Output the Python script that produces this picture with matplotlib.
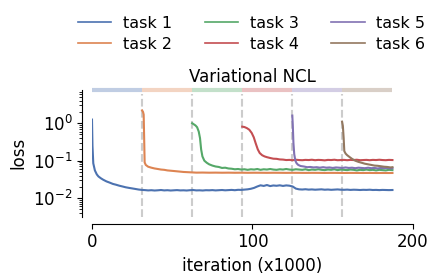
import matplotlib
matplotlib.use("Agg")
import matplotlib.pyplot as plt

# granice zadan (x1000 iteracji)
granice = [0, 31.2, 62.4, 93.6, 124.8, 156.0, 187.2]
etykiety = ["task 1", "task 2", "task 3", "task 4", "task 5", "task 6"]
kolory = ["#4C72B0", "#DD8452", "#55A868", "#C44E52", "#8172B3", "#937860"]

task1 = [(0, 1.25), (0.3, 0.25), (0.8, 0.085), (1.8, 0.055), (3, 0.043), (4, 0.038),
         (5.5, 0.034), (7, 0.031), (9, 0.028), (11, 0.026), (13, 0.024), (15, 0.0228),
         (17, 0.0215), (19, 0.0205), (21, 0.0195), (23, 0.0188), (25, 0.0182), (27, 0.0176),
         (29, 0.0170), (31, 0.0166), (33, 0.0164), (35, 0.0161), (37, 0.0163), (39, 0.0160),
         (41, 0.0162), (43, 0.0165), (45, 0.0161), (47, 0.0163), (49, 0.0160), (51, 0.0162),
         (53, 0.0164), (55, 0.0161), (57, 0.0162), (59, 0.0160), (61, 0.0163), (63, 0.0165),
         (65, 0.0161), (67, 0.0162), (69, 0.0160), (71, 0.0163), (73, 0.0162), (75, 0.0164),
         (77, 0.0161), (79, 0.0163), (81, 0.0165), (83, 0.0162), (85, 0.0164), (87, 0.0166),
         (89, 0.0163), (91, 0.0167), (93, 0.0166), (95, 0.0169), (97, 0.0172), (99, 0.0178),
         (101, 0.0188), (103, 0.0205), (105, 0.0220), (107, 0.0212), (109, 0.0224),
         (111, 0.0210), (113, 0.0218), (115, 0.0214), (117, 0.0220), (119, 0.0212),
         (121, 0.0219), (123, 0.0215), (125, 0.0205), (127, 0.0180), (129, 0.0172),
         (131, 0.0170), (133, 0.0173), (135, 0.0169), (137, 0.0171), (139, 0.0168),
         (141, 0.0170), (143, 0.0172), (145, 0.0168), (147, 0.0170), (149, 0.0167),
         (151, 0.0169), (153, 0.0171), (155, 0.0168), (157, 0.0167), (159, 0.0169),
         (161, 0.0166), (163, 0.0168), (165, 0.0167), (167, 0.0165), (169, 0.0167),
         (171, 0.0166), (173, 0.0168), (175, 0.0165), (177, 0.0166), (179, 0.0164),
         (181, 0.0166), (183, 0.0165), (185, 0.0164), (187.2, 0.0165)]

task2 = [(31.2, 2.2), (31.8, 2.0), (32.2, 1.7), (32.5, 0.4), (32.8, 0.09), (33.5, 0.077),
         (35, 0.069), (37, 0.065), (39, 0.062), (41, 0.060), (43, 0.058), (45, 0.057),
         (47, 0.055), (49, 0.054), (51, 0.053), (53, 0.052), (55, 0.051), (57, 0.050),
         (59, 0.0495), (61, 0.049), (63, 0.0485), (65, 0.048), (69, 0.0482), (73, 0.0478),
         (77, 0.048), (81, 0.0477), (85, 0.0479), (89, 0.0476), (93, 0.0478), (97, 0.0475),
         (101, 0.0477), (105, 0.0476), (109, 0.0474), (113, 0.0476), (117, 0.0475),
         (121, 0.0473), (125, 0.0475), (129, 0.0474), (133, 0.0472), (137, 0.0474),
         (141, 0.0473), (145, 0.0471), (149, 0.0473), (153, 0.0472), (157, 0.047),
         (161, 0.0472), (165, 0.0471), (169, 0.047), (173, 0.0471), (177, 0.0469),
         (181, 0.047), (185, 0.0469), (187.2, 0.047)]

task3 = [(62.4, 1.0), (63.5, 0.93), (64.5, 0.87), (65.5, 0.78), (66.5, 0.6), (67.3, 0.4),
         (68, 0.2), (68.8, 0.13), (70, 0.1), (71.5, 0.088), (73, 0.08), (75, 0.074),
         (77, 0.070), (79, 0.068), (81, 0.064), (83, 0.065), (85, 0.062), (87, 0.061),
         (89, 0.059), (91, 0.060), (93, 0.058), (95, 0.059), (97, 0.057), (99, 0.059),
         (101, 0.058), (103, 0.060), (105, 0.057), (107, 0.059), (109, 0.058), (111, 0.060),
         (113, 0.058), (115, 0.057), (117, 0.059), (119, 0.058), (121, 0.060), (123, 0.058),
         (125, 0.057), (127, 0.059), (129, 0.058), (131, 0.057), (133, 0.059), (135, 0.056),
         (137, 0.058), (139, 0.057), (141, 0.059), (143, 0.057), (145, 0.056), (147, 0.058),
         (149, 0.057), (151, 0.059), (153, 0.056), (155, 0.058), (157, 0.057), (159, 0.056),
         (161, 0.058), (163, 0.057), (165, 0.055), (167, 0.057), (169, 0.056), (171, 0.058),
         (173, 0.056), (175, 0.057), (177, 0.055), (179, 0.057), (181, 0.056), (183, 0.055),
         (185, 0.057), (187.2, 0.056)]

task4 = [(93.6, 0.81), (95, 0.79), (96.5, 0.74), (98, 0.67), (99.5, 0.55), (100.8, 0.42),
         (102, 0.29), (103.3, 0.2), (104.5, 0.16), (106, 0.14), (107.5, 0.13), (109, 0.124),
         (111, 0.118), (113, 0.113), (115, 0.112), (117, 0.108), (119, 0.107), (121, 0.104),
         (123, 0.105), (125, 0.103), (127, 0.106), (129, 0.104), (131, 0.103), (133, 0.105),
         (135, 0.104), (137, 0.106), (139, 0.103), (141, 0.105), (143, 0.104), (145, 0.102),
         (147, 0.105), (149, 0.104), (151, 0.106), (153, 0.103), (155, 0.104), (157, 0.105),
         (159, 0.103), (161, 0.105), (163, 0.104), (165, 0.106), (167, 0.103), (169, 0.104),
         (171, 0.105), (173, 0.103), (175, 0.105), (177, 0.104), (179, 0.106), (181, 0.104),
         (183, 0.103), (185, 0.105), (187.2, 0.104)]

task5 = [(124.8, 1.6), (125.1, 0.9), (125.5, 0.3), (126, 0.15), (126.7, 0.1), (127.5, 0.085),
         (128.5, 0.077), (130, 0.072), (132, 0.070), (134, 0.067), (136, 0.068), (138, 0.066),
         (140, 0.067), (142, 0.065), (144, 0.067), (146, 0.065), (148, 0.066), (150, 0.064),
         (152, 0.066), (154, 0.065), (156, 0.064), (158, 0.066), (160, 0.064), (162, 0.065),
         (164, 0.063), (166, 0.065), (168, 0.064), (170, 0.063), (172, 0.065), (174, 0.063),
         (176, 0.064), (178, 0.062), (180, 0.064), (182, 0.063), (184, 0.064), (186, 0.062),
         (187.2, 0.063)]

task6 = [(155.8, 1.1), (156.3, 0.85), (156.8, 0.4), (157.2, 0.18), (158, 0.155), (159, 0.14),
         (160.5, 0.125), (162, 0.112), (164, 0.1), (166, 0.093), (168, 0.088), (170, 0.083),
         (172, 0.080), (174, 0.077), (176, 0.074), (178, 0.073), (180, 0.071), (182, 0.069),
         (184, 0.068), (186, 0.066), (187.2, 0.067)]

zadania = [task1, task2, task3, task4, task5, task6]

plt.rcParams['font.size'] = 12
fig = plt.figure(figsize=(4.41, 2.78), dpi=100)
ax = fig.add_axes([0.2086, 0.2205, 0.7279, 0.4558])

y_min, y_max = 0.0032, 7.7

for i, dane in enumerate(zadania):
    xs = [p[0] for p in dane]
    ys = [p[1] for p in dane]
    ax.plot(xs, ys, color=kolory[i], lw=1.5, label=etykiety[i])
    # pasek zadania na gorze
    ax.plot([granice[i], granice[i + 1]], [y_max, y_max], color=kolory[i], lw=3,
            alpha=0.35, solid_capstyle='butt', clip_on=False)

for g in granice[1:-1]:
    ax.axvline(g, ymax=0.97, color='#cccccc', ls='--', lw=1.5, zorder=0)

ax.set_yscale('log')
ax.set_ylim(y_min, y_max)
ax.set_xlim(0, 200)
ax.set_xticks([0, 100, 200])
ax.set_xlabel('iteration (x1000)')
ax.set_ylabel('loss')
ax.set_title('Variational NCL', fontsize=12)

ax.spines['top'].set_visible(False)
ax.spines['right'].set_visible(False)
ax.spines['left'].set_position(('outward', 7))
ax.spines['bottom'].set_position(('outward', 5))

leg = fig.legend(loc='upper center', bbox_to_anchor=(0.5705, 0.995), ncol=3, frameon=False,
                 fontsize=11.5, labelspacing=0.37, handlelength=2.09, handletextpad=0.73,
                 columnspacing=2.04)
for h in leg.get_lines():
    h.set_linewidth(1.2)

fig.savefig('out.png', dpi=100)
